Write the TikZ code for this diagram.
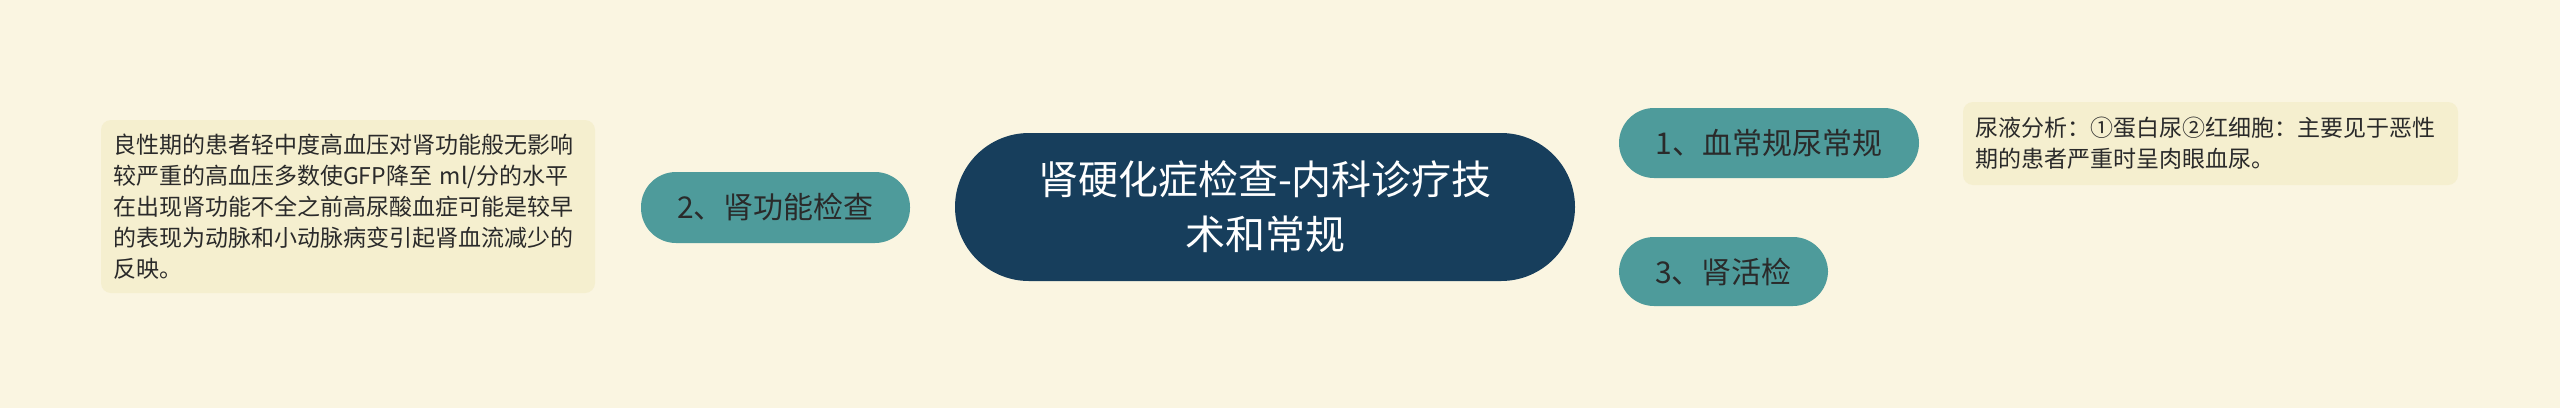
\documentclass[tikz,border=0pt]{standalone}
\usepackage{fontspec}
\newfontfamily\cjk{Noto Sans CJK SC}
\usetikzlibrary{backgrounds}
\definecolor{bgc}{HTML}{FAF5E1}
\definecolor{leafc}{HTML}{F5EFCF}
\definecolor{tealc}{HTML}{4E9B9B}
\definecolor{rootc}{HTML}{173E5C}
\definecolor{linec}{HTML}{18375A}
\definecolor{darktext}{HTML}{2A2A2A}
\tikzset{
  leafbox/.style={fill=leafc, rounded corners=10pt, inner ysep=0pt, align=left,
    font=\cjk\fontsize{23}{31}\selectfont, text=darktext},
  topicbox/.style={fill=tealc, rounded corners=35pt, inner sep=0pt,
    font=\cjk\fontsize{30}{36}\selectfont, text=darktext},
  rootbox/.style={fill=rootc, rounded corners=74pt, inner sep=0pt, align=center,
    font=\cjk\fontsize{40}{55}\selectfont, text=white},
  conn/.style={draw=linec, line width=3pt}
}
\begin{document}
\begin{tikzpicture}[x=1pt,y=-1pt]
\fill[bgc] (0,0) rectangle (2560,408);
\useasboundingbox (0,0) rectangle (2560,408);

\node[rootbox, minimum width=620pt, minimum height=148pt] (root) at (1265,207)
  {肾硬化症检查-内科诊疗技\\术和常规};

\node[topicbox, minimum width=269pt, minimum height=71pt] (n2) at (775.5,207.5) {2、肾功能检查};
\node[topicbox, minimum width=300pt, minimum height=70pt] (n1) at (1769,143) {1、血常规尿常规};
\node[topicbox, minimum width=209pt, minimum height=69pt] (n3) at (1723.5,271.5) {3、肾活检};

\node[leafbox, text width=470pt, inner xsep=12pt, minimum height=173pt] (l2) at (348,206.5)
  {良性期的患者轻中度高血压对肾功能般无影响\\较严重的高血压多数使GFP降至 ml/分的水平\\在出现肾功能不全之前高尿酸血症可能是较早\\的表现为动脉和小动脉病变引起肾血流减少的\\反映。};
\node[leafbox, text width=471pt, inner xsep=12pt, minimum height=83pt] (l1) at (2210.5,143.5)
  {尿液分析：①蛋白尿②红细胞：主要见于恶性\\期的患者严重时呈肉眼血尿。};

\begin{pgfonlayer}{background}
\draw[conn] (l2.east) -- (n2.west);
\draw[conn] (n2.east) -- (root.west);
\draw[conn] (root.center |- n1.west) -- (n1.west);
\draw[conn] (root.center |- n3.west) -- (n3.west);
\draw[conn] (n1.east) -- (l1.west);
\end{pgfonlayer}
\end{tikzpicture}
\end{document}
